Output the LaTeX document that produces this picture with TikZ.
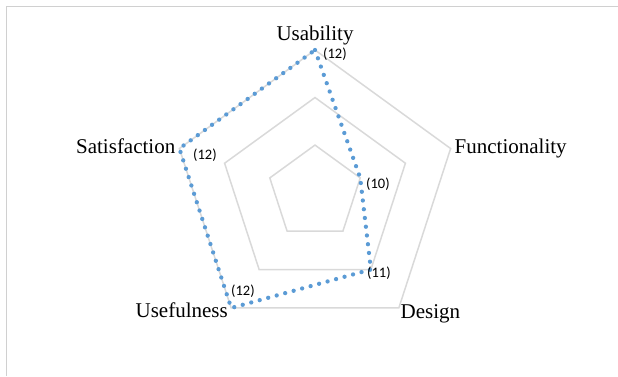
\documentclass[tikz,border=0pt]{standalone}
\usepackage{fontspec}
\setmainfont{Liberation Serif}
\newfontfamily\valfont{Carlito}
\definecolor{gridgray}{HTML}{D9D9D9}
\definecolor{framegray}{HTML}{D0D0D0}
\definecolor{seriesblue}{HTML}{5B9BD5}
\begin{document}
\begin{tikzpicture}[x=1pt,y=1pt,
  ring/.style={draw=gridgray, line width=1.5pt, line join=miter},
  series/.style={draw=seriesblue, line width=4.3pt, line cap=round, line join=round,
                 dash pattern=on 0pt off 8.8pt},
  axislabel/.style={font=\fontsize{21}{24}\selectfont, inner sep=0pt},
  vallabel/.style={font=\valfont\fontsize{14.5}{17}\selectfont, inner sep=0pt, anchor=west}]
\useasboundingbox (0,0) rectangle (618,-376);
% chart area frame
\draw[framegray, line width=1pt] (6.5,-376) -- (6.5,-6.5) -- (618,-6.5);

\begin{scope}[shift={(315,-192.6)}]
  % grid rings: 10, 11, 12 on a 9..12 scale
  \foreach \r in {47.53,95.07,142.6}
    \draw[ring] (90:\r) -- (18:\r) -- (-54:\r) -- (-126:\r) -- (162:\r) -- cycle;
  % data points
  \coordinate (usab) at (90:142.6);
  \coordinate (func) at (18:47.53);
  \coordinate (desi) at (-54:95.07);
  \coordinate (usef) at (-126:142.6);
  \coordinate (sati) at (162:142.6);
  \draw[series] (usab) -- (func) -- (desi) -- (usef) -- (sati) -- cycle;
\end{scope}

% axis labels
\node[axislabel, anchor=base] (lusab) at (315,-40) {Usability};
\node[axislabel, anchor=base west] (lfunc) at (454.5,-153.3) {Functionality};
\node[axislabel, anchor=base west] (ldesi) at (400.5,-318) {Design};
\node[axislabel, anchor=base east] (lusef) at (228,-317) {Usefulness};
\node[axislabel, anchor=base east] (lsati) at (175.5,-153.3) {Satisfaction};

% value labels
\node[vallabel] (vusab) at (323,-54) {(12)};
\node[vallabel] (vfunc) at (366,-184) {(10)};
\node[vallabel] (vdesi) at (367,-273) {(11)};
\node[vallabel] (vusef) at (231,-291) {(12)};
\node[vallabel] (vsati) at (193,-155) {(12)};
\end{tikzpicture}
\end{document}
